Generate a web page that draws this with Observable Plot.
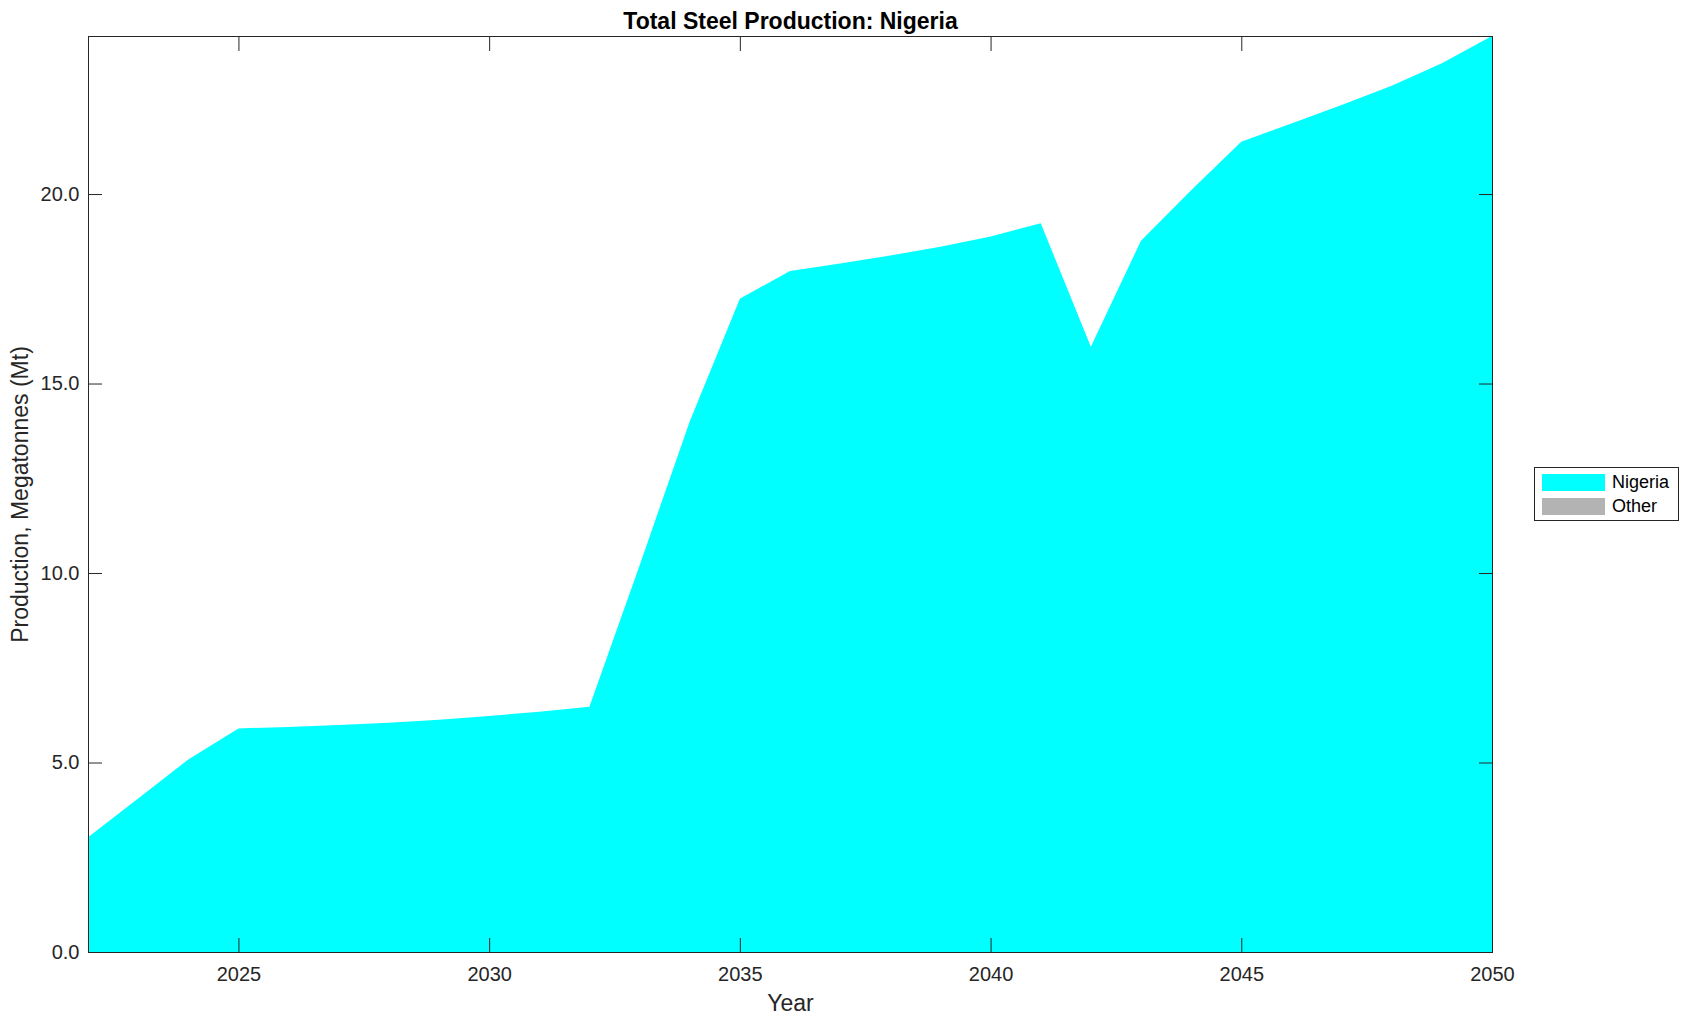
<!DOCTYPE html>
<html>
<head>
<meta charset="utf-8">
<script src="https://cdn.jsdelivr.net/npm/d3@7"></script>
<script src="https://cdn.jsdelivr.net/npm/@observablehq/plot@0.6"></script>
<style>
  html, body { margin: 0; padding: 0; background: #fff; }
  #wrap { position: relative; width: 1690px; height: 1021px; font-family: "Liberation Sans", Arial, Helvetica, sans-serif; }
  #legend { position: absolute; left: 1534px; top: 467px; width: 143px; height: 52px; border: 1px solid #262626; background: #fff; box-sizing: content-box; }
  .row { position: absolute; left: 7px; height: 17px; display: flex; align-items: center; }
  .sw { width: 63px; height: 17px; margin-right: 7px; }
  .lbl { font-size: 18px; color: #000; line-height: 17px; }
</style>
</head>
<body>
<div id="wrap"></div>
<script>
// ---- data ----
const years = [2022, 2023, 2024, 2025, 2026, 2027, 2028, 2029, 2030, 2031, 2032, 2033, 2034, 2035, 2036, 2037, 2038, 2039, 2040, 2041, 2042, 2043, 2044, 2045, 2046, 2047, 2048, 2049, 2050];
const nigeria = [3.03, 4.05, 5.08, 5.90, 5.94, 5.99, 6.05, 6.13, 6.23, 6.34, 6.47, 10.2, 14.0, 17.24, 17.97, 18.17, 18.38, 18.61, 18.88, 19.23, 15.97, 18.77, 20.1, 21.38, 21.86, 22.35, 22.86, 23.45, 24.17];
const other = years.map(() => 0);
const seriesNames = ["Nigeria", "Other"];
const seriesColors = ["#00ffff", "#b3b3b3"];
const xTicks = [2025, 2030, 2035, 2040, 2045, 2050];
const yTicks = [0, 5, 10, 15, 20];
const title = "Total Steel Production: Nigeria";
const xLabel = "Year";
const yLabel = "Production, Megatonnes (Mt)";

const rows = [];
years.forEach((y, i) => {
  rows.push({year: y, series: "Nigeria", value: nigeria[i]});
  rows.push({year: y, series: "Other", value: other[i]});
});

const ink = "#262626";
const chart = Plot.plot({
  width: 1690,
  height: 1021,
  marginLeft: 88,
  marginRight: 198,
  marginTop: 36,
  marginBottom: 69,
  style: {fontFamily: '"Liberation Sans", Arial, Helvetica, sans-serif', fontSize: "20px", color: ink, background: "white", overflow: "visible"},
  x: {domain: [2022, 2050]},
  y: {domain: [0, d3.max(nigeria)]},
  color: {domain: seriesNames, range: seriesColors},
  marks: [
    Plot.areaY(rows, {x: "year", y: "value", fill: "series", order: seriesNames}),
    // inward ticks on all four sides
    Plot.axisX({anchor: "bottom", ticks: xTicks, tickSize: -14, text: null, label: null, stroke: ink}),
    Plot.axisX({anchor: "top", ticks: xTicks, tickSize: -14, text: null, label: null, stroke: ink}),
    Plot.axisY({anchor: "left", ticks: yTicks, tickSize: -14, text: null, label: null, stroke: ink}),
    Plot.axisY({anchor: "right", ticks: yTicks, tickSize: -14, text: null, label: null, stroke: ink}),
    // tick labels
    Plot.axisX({anchor: "bottom", ticks: xTicks, tickSize: 0, tickPadding: 14, tickFormat: "d", label: null, fill: ink, fontSize: 20}),
    Plot.axisY({anchor: "left", ticks: yTicks, tickSize: 0, tickPadding: 9, tickFormat: ".1f", label: null, fill: ink, fontSize: 20}),
    Plot.frame({stroke: ink, strokeWidth: 1}),
    // title & axis labels
    Plot.text([title], {frameAnchor: "top", dy: -8, lineAnchor: "bottom", textAnchor: "middle", fontSize: 23, fontWeight: "bold", fill: "#000"}),
    Plot.text([xLabel], {frameAnchor: "bottom", dy: 58, lineAnchor: "bottom", textAnchor: "middle", fontSize: 23, fill: ink}),
    Plot.text([yLabel], {frameAnchor: "left", dx: -61, rotate: -90, lineAnchor: "bottom", textAnchor: "middle", fontSize: 23, fill: ink})
  ]
});

const wrap = document.getElementById("wrap");
wrap.appendChild(chart);

// legend
const legend = document.createElement("div");
legend.id = "legend";
seriesNames.forEach((name, i) => {
  const row = document.createElement("div");
  row.className = "row";
  row.style.top = (6 + i * 24) + "px";
  const sw = document.createElement("div");
  sw.className = "sw";
  sw.style.background = seriesColors[i];
  const lbl = document.createElement("span");
  lbl.className = "lbl";
  lbl.textContent = name;
  row.appendChild(sw);
  row.appendChild(lbl);
  legend.appendChild(row);
});
wrap.appendChild(legend);
</script>
</body>
</html>
